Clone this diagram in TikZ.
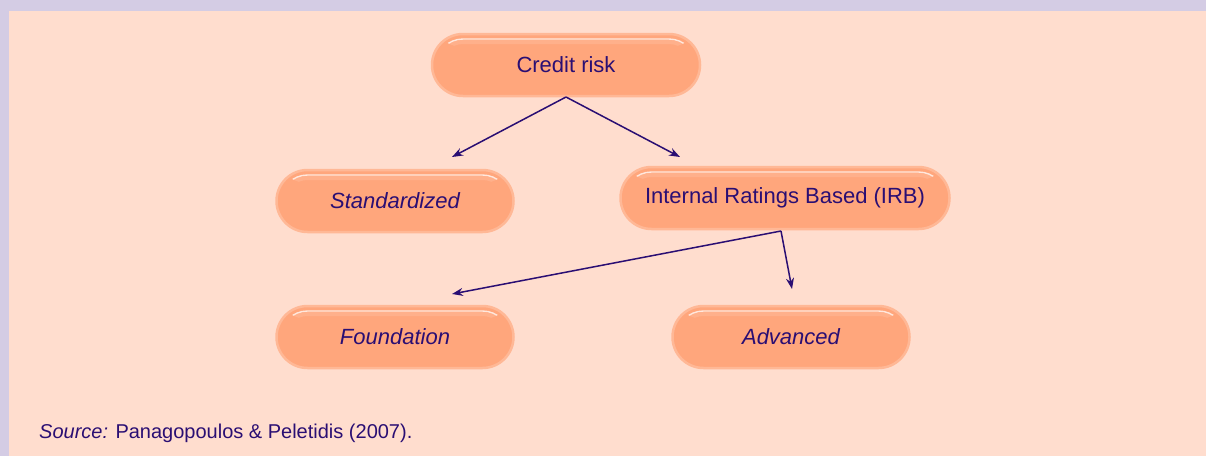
\documentclass[tikz,border=0pt]{standalone}
\usepackage{fontspec}
\setmainfont{Liberation Sans}
\usetikzlibrary{arrows.meta,calc}
\definecolor{frame}{HTML}{D4CCE4}
\definecolor{paper}{HTML}{FFDDCE}
\definecolor{pill}{HTML}{FFA67C}
\definecolor{rim}{HTML}{FFB896}
\definecolor{ink}{HTML}{2A0E73}
\tikzset{
  pillbox/.style={draw=rim, line width=2.5pt, fill=pill, rounded corners=31pt,
    minimum height=62pt, text=ink, font=\fontsize{22}{26}\selectfont,
    path picture={
      % soft gloss along the upper inner edge
      \begin{scope}
        \clip ($(path picture bounding box.north west)+(0,0)$) rectangle
              ($(path picture bounding box.north east)+(0,-13pt)$);
        \draw[white, line width=1.4pt, opacity=0.75, rounded corners=27pt]
          ($(path picture bounding box.north west)+(4pt,-5pt)$) rectangle
          ($(path picture bounding box.south east)+(-4pt,4pt)$);
        \draw[white, line width=4pt, opacity=0.12, rounded corners=25pt]
          ($(path picture bounding box.north west)+(6pt,-8pt)$) rectangle
          ($(path picture bounding box.south east)+(-6pt,6pt)$);
      \end{scope}
    }},
  link/.style={draw=ink, line width=1.5pt, -{Stealth[length=11pt,width=8pt]}}
}
\begin{document}
\begin{tikzpicture}[x=1pt,y=-1pt]
  \fill[frame] (0,0) rectangle (1206,456);
  \fill[paper] (9,11) rectangle (1206,456);
  \useasboundingbox (0,0) rectangle (1206,456);

  \node[pillbox, minimum width=268pt] (credit) at (566,65) {Credit risk};
  \node[pillbox, minimum width=237pt] (std) at (395,201) {\itshape Standardized};
  \node[pillbox, minimum width=329pt] (irb) at (785,198) {Internal Ratings Based (IRB)};
  \node[pillbox, minimum width=237pt] (found) at (395,337) {\itshape Foundation};
  \node[pillbox, minimum width=237pt] (adv) at (791,337) {\itshape Advanced};

  \coordinate (cr) at (566,97);
  \coordinate (stdend) at (452,157);
  \coordinate (irbend) at (680,157);
  \coordinate (ir) at (781,231);
  \coordinate (foundend) at (452,294);
  \coordinate (advend) at (792,289);

  \draw[link] (cr) -- (stdend);
  \draw[link] (cr) -- (irbend);
  \draw[link] (ir) -- (foundend);
  \draw[link] (ir) -- (advend);

  \node[anchor=west, text=ink, font=\fontsize{20}{24}\selectfont, inner sep=0pt] (src) at (39,433)
    {\itshape Source:\upshape{} Panagopoulos \& Peletidis (2007).};
\end{tikzpicture}
\end{document}
